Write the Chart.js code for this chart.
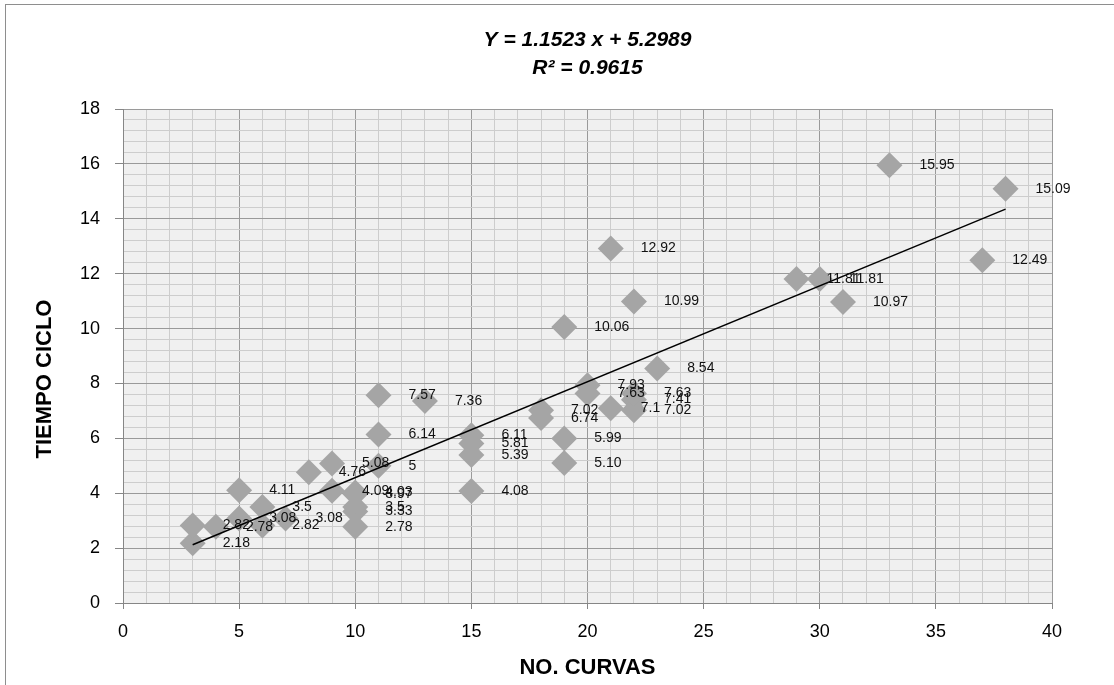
<!DOCTYPE html>
<html>
<head>
<meta charset="utf-8">
<script src="https://cdn.jsdelivr.net/npm/chart.js@4.4.1/dist/chart.umd.min.js"></script>
<style>
  html, body { margin: 0; padding: 0; background: #fff; overflow: hidden; }
</style>
</head>
<body>
<canvas id="grafico" width="1114" height="685"></canvas>
<script>
// datos
const curvas = [3, 3, 4, 5, 5, 6, 6, 7, 8, 9, 9, 10, 10, 10, 10, 10, 11, 11, 11,
  13, 15, 15, 15, 15, 18, 18, 19, 19, 19, 20, 20, 21, 21, 22, 22, 22, 22, 23,
  29, 30, 31, 33, 37, 38];
const tiempo = [2.18, 2.82, 2.78, 4.11, 3.08, 2.82, 3.5, 3.08, 4.76, 5.08, 4.09, 4.03, 3.97, 3.5, 3.33, 2.78, 5, 6.14, 7.57,
  7.36, 6.11, 5.81, 5.39, 4.08, 7.02, 6.74, 10.06, 5.99, 5.10, 7.93, 7.63, 12.92, 7.1, 7.41, 10.99, 7.02, 7.63, 8.54,
  11.81, 11.81, 10.97, 15.95, 12.49, 15.09];
const etiquetas = ['2.18', '2.82', '2.78', '4.11', '3.08', '2.82', '3.5', '3.08', '4.76', '5.08', '4.09', '4.03', '3.97', '3.5', '3.33', '2.78', '5', '6.14', '7.57',
  '7.36', '6.11', '5.81', '5.39', '4.08', '7.02', '6.74', '10.06', '5.99', '5.10', '7.93', '7.63', '12.92', '7.1', '7.41', '10.99', '7.02', '7.63', '8.54',
  '11.81', '11.81', '10.97', '15.95', '12.49', '15.09'];
const titulo = ['Y = 1.1523 x + 5.2989', 'R² = 0.9615'];
const tituloX = 'NO. CURVAS';
const tituloY = 'TIEMPO CICLO';

// recta de tendencia por mínimos cuadrados
const n = curvas.length;
const mx = curvas.reduce((a, b) => a + b, 0) / n;
const my = tiempo.reduce((a, b) => a + b, 0) / n;
let sxy = 0, sxx = 0;
curvas.forEach((x, i) => { sxy += (x - mx) * (tiempo[i] - my); sxx += (x - mx) * (x - mx); });
const pendiente = sxy / sxx;
const corte = my - pendiente * mx;
const xMin = Math.min(...curvas), xMax = Math.max(...curvas);

const puntos = curvas.map((x, i) => ({ x: x, y: tiempo[i] }));
const tendencia = [xMin, xMax].map(x => ({ x: x, y: corte + pendiente * x }));

const fuente = "'Liberation Sans', Arial, sans-serif";
const esMultiplo = (v, m) => Math.abs(v / m - Math.round(v / m)) < 1e-6;

const fondo = {
  id: 'fondo',
  beforeDraw(chart) {
    const { ctx, chartArea: a } = chart;
    ctx.save();
    ctx.fillStyle = '#fff';
    ctx.fillRect(0, 0, chart.width, chart.height);
    ctx.strokeStyle = '#8e8e8e';
    ctx.lineWidth = 1;
    ctx.strokeRect(5.5, 4.5, 1200, 800);
    ctx.fillStyle = '#f0f0f0';
    ctx.fillRect(a.left, a.top, a.right - a.left, a.bottom - a.top);
    ctx.restore();
  }
};

const textos = {
  id: 'textos',
  afterDraw(chart) {
    const { ctx, chartArea: a } = chart;
    const cx = (a.left + a.right) / 2;
    ctx.save();
    ctx.fillStyle = '#000';
    ctx.textAlign = 'center';
    ctx.textBaseline = 'middle';
    ctx.font = "italic bold 21px " + fuente;
    ctx.fillText(titulo[0], cx, 40);
    ctx.fillText(titulo[1], cx, 68);
    ctx.font = "bold 22px " + fuente;
    ctx.fillText(tituloX, cx, 668);
    ctx.translate(45, 379);
    ctx.rotate(-Math.PI / 2);
    ctx.fillText(tituloY, 0, 0);
    ctx.restore();
  }
};

const rotulos = {
  id: 'rotulos',
  afterDatasetsDraw(chart) {
    const { ctx } = chart;
    const meta = chart.getDatasetMeta(1);
    ctx.save();
    ctx.fillStyle = '#111';
    ctx.font = "14px " + fuente;
    ctx.textAlign = 'left';
    ctx.textBaseline = 'middle';
    meta.data.forEach((p, i) => {
      ctx.fillText(etiquetas[i], p.x + 30, p.y);
    });
    ctx.restore();
  }
};

new Chart(document.getElementById('grafico'), {
  type: 'scatter',
  data: {
    datasets: [
      {
        type: 'line',
        label: 'Tendencia',
        data: tendencia,
        borderColor: '#000',
        borderWidth: 1.5,
        pointRadius: 0,
        fill: false
      },
      {
        label: 'Tiempo ciclo',
        data: puntos,
        pointStyle: 'rectRot',
        pointRadius: 13,
        pointHoverRadius: 13,
        backgroundColor: '#a5a5a5',
        borderWidth: 0
      }
    ]
  },
  options: {
    responsive: false,
    devicePixelRatio: 1,
    animation: false,
    layout: { padding: { left: 0, right: 62, top: 109, bottom: 0 } },
    plugins: {
      legend: { display: false },
      tooltip: { enabled: false },
      title: { display: false }
    },
    scales: {
      x: {
        type: 'linear',
        min: 0,
        max: 40,
        afterFit(s) { s.height = 82; },
        border: { color: '#868686', width: 1 },
        grid: {
          color: c => esMultiplo(c.tick.value, 5) ? '#9a9a9a' : '#cdcdcd',
          tickColor: c => esMultiplo(c.tick.value, 5) ? '#868686' : 'rgba(0,0,0,0)',
          tickLength: 6,
          lineWidth: 1
        },
        ticks: {
          stepSize: 1,
          autoSkip: false,
          maxRotation: 0,
          padding: 12,
          color: '#000',
          font: { family: fuente, size: 18 },
          callback: v => esMultiplo(v, 5) ? String(Math.round(v)) : ''
        }
      },
      y: {
        min: 0,
        max: 18,
        afterFit(s) { s.width = 123; },
        border: { color: '#868686', width: 1 },
        grid: {
          color: c => esMultiplo(c.tick.value, 2) ? '#9a9a9a' : '#cdcdcd',
          tickColor: c => esMultiplo(c.tick.value, 2) ? '#868686' : 'rgba(0,0,0,0)',
          tickLength: 8,
          lineWidth: 1
        },
        ticks: {
          stepSize: 0.4,
          autoSkip: false,
          padding: 15,
          color: '#000',
          font: { family: fuente, size: 18 },
          callback: v => esMultiplo(v, 2) ? String(Math.round(v)) : ''
        }
      }
    }
  },
  plugins: [fondo, rotulos, textos]
});
</script>
</body>
</html>
